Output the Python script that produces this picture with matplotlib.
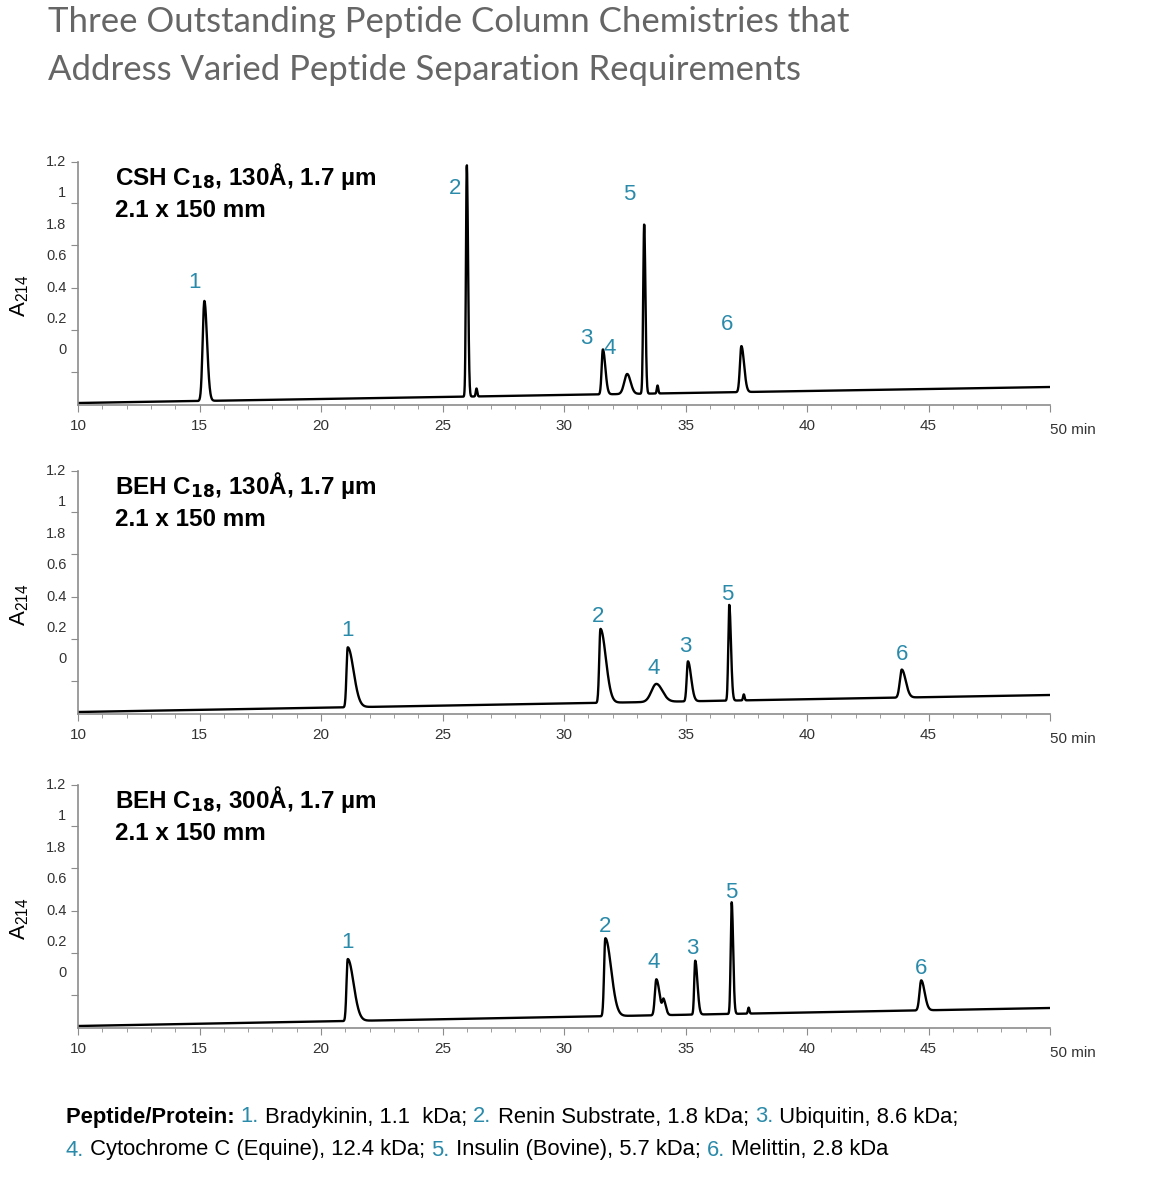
import numpy as np
import matplotlib.pyplot as plt

plt.rcParams['font.family'] = ['Liberation Sans', 'DejaVu Sans']
plt.rcParams['mathtext.default'] = 'regular'

TEAL = '#2a8aaa'
GRAY = '#8c8c8c'

# column names
columns = [(r'CSH C$_{\mathbf{18}}$, 130Å, 1.7 µm', '2.1 x 150 mm'),
           (r'BEH C$_{\mathbf{18}}$, 130Å, 1.7 µm', '2.1 x 150 mm'),
           (r'BEH C$_{\mathbf{18}}$, 300Å, 1.7 µm', '2.1 x 150 mm')]

# baseline (start, end) heights, arbitrary units above axis
baselines = [(2, 18), (2, 19), (2, 20)]

# peaks: (time min, height, left width, right width)
peaks = [
    [(15.2, 100, 0.07, 0.11), (26.0, 232, 0.035, 0.05), (26.4, 8, 0.03, 0.03),
     (31.6, 45, 0.05, 0.10), (32.6, 20, 0.12, 0.14), (33.3, 170, 0.04, 0.05),
     (33.85, 8, 0.03, 0.03), (37.3, 46, 0.06, 0.11)],
    [(21.1, 60, 0.05, 0.24), (31.5, 74, 0.05, 0.22), (33.8, 18, 0.2, 0.25),
     (35.1, 40, 0.05, 0.13), (36.8, 96, 0.04, 0.07), (37.4, 6, 0.03, 0.03),
     (43.9, 28, 0.08, 0.16)],
    [(21.1, 62, 0.05, 0.24), (31.7, 78, 0.05, 0.24), (33.8, 36, 0.06, 0.13),
     (34.1, 14, 0.05, 0.09), (35.4, 54, 0.04, 0.09), (36.9, 112, 0.04, 0.06),
     (37.6, 6, 0.03, 0.03), (44.7, 30, 0.07, 0.14)],
]

# peak labels: (text, time, height)
labels = [
    [('1', 14.8, 123), ('2', 25.5, 216), ('3', 30.9, 67), ('4', 31.9, 56),
     ('5', 32.7, 210), ('6', 36.7, 81)],
    [('1', 21.1, 83), ('2', 31.4, 97), ('4', 33.7, 45), ('3', 35.0, 68),
     ('5', 36.7, 119), ('6', 43.9, 59)],
    [('1', 21.1, 86), ('2', 31.7, 101), ('4', 33.7, 65), ('3', 35.3, 80),
     ('5', 36.9, 135), ('6', 44.7, 60)],
]

ytick_pos = [33, 75, 117, 160, 202, 243]
ylab_text = ['1.2', '1', '1.8', '0.6', '0.4', '0.2', '0']
ylab_pos = [243, 212, 180, 149, 117, 86, 55]

fig = plt.figure(figsize=(11.63, 12), dpi=100)

for txt, ypx in [('Three Outstanding Peptide Column Chemistries that', 22),
                 ('Address Varied Peptide Separation Requirements', 70)]:
    fig.text(48 / 1163, 1 - ypx / 1200, txt, fontsize=25, color='#666666',
             family=['Lato', 'DejaVu Sans'], va='center')

t = np.linspace(10, 50, 4000)
bottoms = [405, 714, 1028]
for i in range(3):
    ax = fig.add_axes([78 / 1163, 1 - bottoms[i] / 1200, 972 / 1163, 243 / 1200])
    b0, b1 = baselines[i]
    y = b0 + (b1 - b0) * (t - 10) / 40
    for (c, h, wl, wr) in peaks[i]:
        w = np.where(t < c, wl, wr)
        y = y + h * np.exp(-0.5 * ((t - c) / w) ** 2)
    ax.plot(t, y, color='black', lw=1.7)
    ax.set_xlim(10, 50)
    ax.set_ylim(0, 243)
    for s in ['top', 'right']:
        ax.spines[s].set_visible(False)
    for s in ['left', 'bottom']:
        ax.spines[s].set_color(GRAY)
        ax.spines[s].set_linewidth(1.2)
    ax.set_xticks(np.arange(10, 51, 5))
    ax.set_xticks(np.arange(10, 51, 1), minor=True)
    ax.set_xticklabels(['10', '15', '20', '25', '30', '35', '40', '45', ''])
    ax.text(50, -25, '50 min', ha='left', va='center', fontsize=11, color='#333333')
    ax.tick_params(axis='x', which='major', length=5, color=GRAY, labelsize=11,
                   labelcolor='#333333', pad=5)
    ax.tick_params(axis='x', which='minor', length=3, color=GRAY)
    ax.set_yticks(ytick_pos)
    ax.set_yticklabels([])
    ax.tick_params(axis='y', length=5, color=GRAY)
    for lt, lp in zip(ylab_text, ylab_pos):
        ax.text(-0.012, lp, lt, transform=ax.get_yaxis_transform(), ha='right', va='center',
                fontsize=10.5, color='#333333')
    ax.text(-0.06, 0.45, 'A$_{214}$', transform=ax.transAxes, rotation=90, ha='center',
            va='center', fontsize=16)
    ax.text(0.038, 0.94, columns[i][0], transform=ax.transAxes, fontsize=17.5, weight='bold',
            va='center')
    ax.text(0.038, 0.80, columns[i][1], transform=ax.transAxes, fontsize=17.5, weight='bold',
            va='center')
    for (lab, x, yy) in labels[i]:
        ax.text(x, yy, lab, color=TEAL, fontsize=16, ha='center', va='center')

# footer with mixed colours
runs1 = [('Peptide/Protein: ', 'black', 'bold'), ('1.', TEAL, 'normal'),
         (' Bradykinin, 1.1  kDa; ', 'black', 'normal'), ('2.', TEAL, 'normal'),
         (' Renin Substrate, 1.8 kDa; ', 'black', 'normal'), ('3.', TEAL, 'normal'),
         (' Ubiquitin, 8.6 kDa;', 'black', 'normal')]
runs2 = [('4.', TEAL, 'normal'), (' Cytochrome C (Equine), 12.4 kDa; ', 'black', 'normal'),
         ('5.', TEAL, 'normal'), (' Insulin (Bovine), 5.7 kDa; ', 'black', 'normal'),
         ('6.', TEAL, 'normal'), (' Melittin, 2.8 kDa', 'black', 'normal')]
renderer = fig.canvas.get_renderer()
for runs, ypx in [(runs1, 1117), (runs2, 1150)]:
    x = 66 / 1163
    for txt, col, wt in runs:
        tt = fig.text(x, 1 - ypx / 1200, txt, color=col, weight=wt, fontsize=15.8, va='center')
        bb = tt.get_window_extent(renderer)
        x += bb.width / fig.bbox.width

fig.savefig('out.png', dpi=100)
